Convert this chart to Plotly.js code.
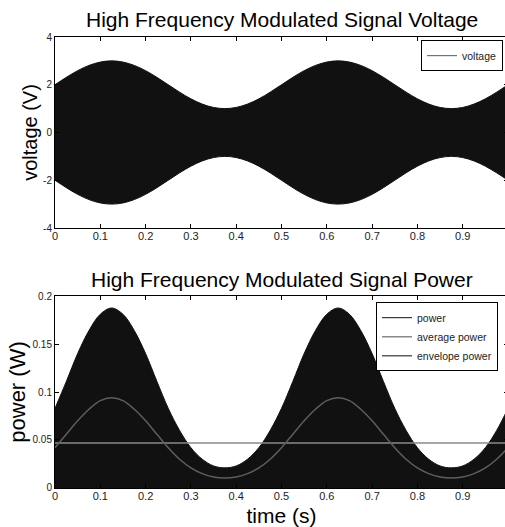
<!DOCTYPE html>
<html>
<head>
<meta charset="utf-8">
<script src="https://cdn.plot.ly/plotly-3.0.1.min.js"></script>
<style>
html,body{margin:0;padding:0;overflow:hidden;background:#fff;}
#chart{width:508px;height:527px;}
</style>
</head>
<body>
<div id="chart"></div>
<script>
// time samples (s)
var time = [0,0.025,0.05,0.075,0.1,0.125,0.15,0.175,0.2,0.225,0.25,0.275,0.3,0.325,0.35,0.375,0.4,0.425,0.45,0.475,0.5,
            0.525,0.55,0.575,0.6,0.625,0.65,0.675,0.7,0.725,0.75,0.775,0.8,0.825,0.85,0.875,0.9,0.925,0.95,0.975,1.0];
// voltage envelope (V)
var voltageUpper = [2.00,2.31,2.59,2.81,2.95,3.00,2.95,2.81,2.59,2.31,2.00,1.69,1.41,1.19,1.05,1.00,1.05,1.19,1.41,1.69,2.00,
                    2.31,2.59,2.81,2.95,3.00,2.95,2.81,2.59,2.31,2.00,1.69,1.41,1.19,1.05,1.00,1.05,1.19,1.41,1.69,2.00];
var voltageLower = [-2.00,-2.31,-2.59,-2.81,-2.95,-3.00,-2.95,-2.81,-2.59,-2.31,-2.00,-1.69,-1.41,-1.19,-1.05,-1.00,-1.05,-1.19,-1.41,-1.69,-2.00,
                    -2.31,-2.59,-2.81,-2.95,-3.00,-2.95,-2.81,-2.59,-2.31,-2.00,-1.69,-1.41,-1.19,-1.05,-1.00,-1.05,-1.19,-1.41,-1.69,-2.00];
// instantaneous power peaks (W)
var powerPeak = [0.083,0.111,0.140,0.164,0.181,0.1875,0.181,0.164,0.140,0.111,0.083,0.060,0.042,0.030,0.023,0.021,0.023,0.030,0.042,0.060,0.083,
                 0.111,0.140,0.164,0.181,0.1875,0.181,0.164,0.140,0.111,0.083,0.060,0.042,0.030,0.023,0.021,0.023,0.030,0.042,0.060,0.083];
// envelope power (W)
var envelopePower = [0.042,0.056,0.070,0.082,0.091,0.094,0.091,0.082,0.070,0.056,0.042,0.030,0.021,0.015,0.0115,0.0104,0.0115,0.015,0.021,0.030,0.042,
                     0.056,0.070,0.082,0.091,0.094,0.091,0.082,0.070,0.056,0.042,0.030,0.021,0.015,0.0115,0.0104,0.0115,0.015,0.021,0.030,0.042];
// average power (W)
var avgTime = [0, 1];
var avgPower = [0.047, 0.047];

var xTickVals = [0,0.1,0.2,0.3,0.4,0.5,0.6,0.7,0.8,0.9];
var xTickText = ['0','0.1','0.2','0.3','0.4','0.5','0.6','0.7','0.8','0.9'];
var vTickVals = [-4,-2,0,2,4];
var vTickText = ['-4','-2','0','2','4'];
var pTickVals = [0,0.05,0.1,0.15,0.2];
var pTickText = ['0','0.05','0.1','0.15','0.2'];

var FONT = 'Liberation Sans, Arial, sans-serif';
var FILL = '#111111';

var traces = [
  {x: time, y: voltageUpper, mode: 'lines', line: {color: FILL, width: 1, shape: 'spline'}, showlegend: false, xaxis: 'x', yaxis: 'y', hoverinfo: 'skip'},
  {x: time, y: voltageLower, mode: 'lines', line: {color: FILL, width: 1, shape: 'spline'}, fill: 'tonexty', fillcolor: FILL, showlegend: false, xaxis: 'x', yaxis: 'y', hoverinfo: 'skip'},
  {x: [null], y: [null], mode: 'lines', name: 'voltage', line: {color: '#5a5a5a', width: 1}, xaxis: 'x', yaxis: 'y', legend: 'legend'},

  {x: time, y: powerPeak, mode: 'lines', line: {color: FILL, width: 1, shape: 'spline'}, fill: 'tozeroy', fillcolor: FILL, showlegend: false, xaxis: 'x2', yaxis: 'y2', hoverinfo: 'skip'},
  {x: [null], y: [null], mode: 'lines', name: 'power', line: {color: '#111111', width: 1}, xaxis: 'x2', yaxis: 'y2', legend: 'legend2'},
  {x: avgTime, y: avgPower, mode: 'lines', name: 'average power', line: {color: '#8a8a8a', width: 1.5}, xaxis: 'x2', yaxis: 'y2', legend: 'legend2'},
  {x: time, y: envelopePower, mode: 'lines', name: 'envelope power', line: {color: '#5e5e5e', width: 1.5, shape: 'spline'}, xaxis: 'x2', yaxis: 'y2', legend: 'legend2'}
];

function xAxis(anchor) {
  return {
    domain: [0, 1], anchor: anchor, range: [0, 1], tickvals: xTickVals, ticktext: xTickText,
    ticks: 'inside', ticklen: 4, tickcolor: '#000', showline: true, linecolor: '#000', linewidth: 1,
    mirror: 'ticks', showgrid: false, zeroline: false, automargin: false, ticklabelstandoff: -2,
    tickfont: {family: FONT, size: 11, color: '#222'}
  };
}

var xa1 = xAxis('y');
var xa2 = xAxis('y2');
xa2.title = {text: 'time (s)', font: {family: FONT, size: 21, color: '#000'}};

var layout = {
  width: 508, height: 527,
  margin: {l: 55, r: 0, t: 37, b: 39},
  paper_bgcolor: '#fff', plot_bgcolor: '#fff',
  showlegend: true,
  xaxis: xa1,
  xaxis2: xa2,
  yaxis: {
    domain: [0.5765, 1], anchor: 'x', range: [-4, 4], tickvals: vTickVals, ticktext: vTickText,
    ticks: 'inside', ticklen: 4, tickcolor: '#000', showline: true, linecolor: '#000', linewidth: 1,
    mirror: 'ticks', showgrid: false, zeroline: false, automargin: true,
    tickfont: {family: FONT, size: 10, color: '#222'},
    title: {text: 'voltage (V)', font: {family: FONT, size: 20, color: '#000'}, standoff: 0}
  },
  yaxis2: {
    domain: [0, 0.4257], anchor: 'x2', range: [0, 0.2], tickvals: pTickVals, ticktext: pTickText,
    ticks: 'inside', ticklen: 4, tickcolor: '#000', showline: true, linecolor: '#000', linewidth: 1,
    mirror: 'ticks', showgrid: false, zeroline: false, automargin: true,
    tickfont: {family: FONT, size: 10, color: '#222'},
    title: {text: 'power (W)', font: {family: FONT, size: 22, color: '#000'}, standoff: 0}
  },
  legend: {
    x: 0.989, y: 0.993, xanchor: 'right', yanchor: 'top', xref: 'paper', yref: 'paper',
    bgcolor: '#fff', bordercolor: '#000', borderwidth: 1, itemwidth: 30,
    font: {family: FONT, size: 10.5, color: '#222'}
  },
  legend2: {
    x: 0.978, y: 0.412, xanchor: 'right', yanchor: 'top', xref: 'paper', yref: 'paper',
    bgcolor: '#fff', bordercolor: '#000', borderwidth: 1, itemwidth: 30,
    font: {family: FONT, size: 10.5, color: '#222'}
  },
  annotations: [
    {text: 'High Frequency Modulated Signal Voltage', xref: 'paper', yref: 'paper', x: 0.5, y: 1.0377,
     xanchor: 'center', yanchor: 'middle', showarrow: false, font: {family: FONT, size: 21, color: '#000'}},
    {text: 'High Frequency Modulated Signal Power', xref: 'paper', yref: 'paper', x: 0.5, y: 0.4623,
     xanchor: 'center', yanchor: 'middle', showarrow: false, font: {family: FONT, size: 21, color: '#000'}}
  ]
};

Plotly.newPlot('chart', traces, layout, {staticPlot: true, displayModeBar: false});
</script>
</body>
</html>
